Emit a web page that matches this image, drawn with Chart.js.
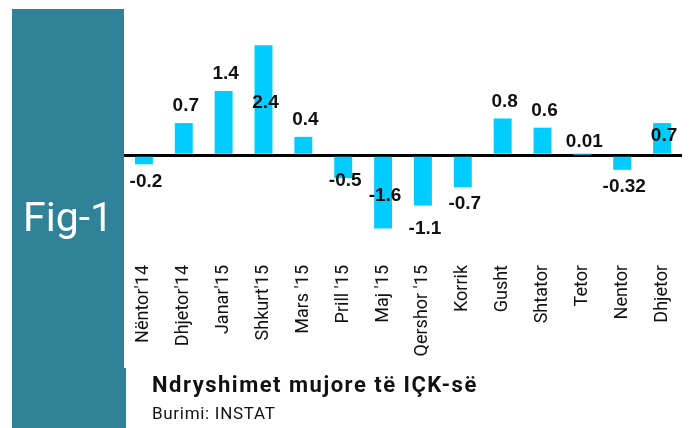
<!DOCTYPE html>
<html>
<head>
<meta charset="utf-8">
<script src="https://cdn.jsdelivr.net/npm/chart.js@4/dist/chart.umd.min.js"></script>
<style>
    body { margin: 0; background: #fff; }
    #wrap { position: relative; width: 689px; height: 428px; overflow: hidden; }
    .teal { position: absolute; background: #2F8297; }
    #grafico { position: absolute; left: 0; top: 0; }
    .txt { position: absolute; font-family: Roboto, sans-serif; line-height: 1; white-space: nowrap; }
</style>
</head>
<body>
<div id="wrap">
    <div class="teal" style="left:12px; top:9px; width:112px; height:419px;"></div>
    <div class="teal" style="left:12px; top:368px; width:114px; height:60px;"></div>
    <canvas id="grafico" width="689" height="428"></canvas>
    <div class="txt" style="left:23px; top:197px; font-size:41px; color:#fff;">Fig-1</div>
    <div class="txt" style="left:152px; top:374px; font-size:22px; font-weight:bold; letter-spacing:1.5px; color:#111;">Ndryshimet mujore të IÇK-së</div>
    <div class="txt" style="left:152px; top:405px; font-size:17px; letter-spacing:0.7px; color:#111;">Burimi: INSTAT</div>
</div>
<script>
var muajt = ["Nëntor'14", "Dhjetor'14", "Janar'15", "Shkurt'15", "Mars '15", "Prill '15", "Maj '15",
    "Qershor '15", "Korrik", "Gusht", "Shtator", "Tetor", "Nentor", "Dhjetor"];
var ndryshimet = [-0.2, 0.7, 1.4, 2.4, 0.4, -0.5, -1.6, -1.1, -0.7, 0.8, 0.6, 0.01, -0.32, 0.7];
var etiketat = ['-0.2', '0.7', '1.4', '2.4', '0.4', '-0.5', '-1.6', '-1.1', '-0.7', '0.8', '0.6', '0.01', '-0.32', '0.7'];

// vlerat mbi/nen shtyllat
const etiketaPlugin = {
    id: 'etiketa',
    afterDatasetsDraw(chart) {
        var ctx = chart.ctx;
        var zhvendos = [0, 0, 0, 75, 0, -14, -50, 6, 0, 0, 0, 4, 0, 30];
        var meta = chart.getDatasetMeta(0);
        ctx.save();
        ctx.font = 'bold 19px "Liberation Sans", Arial, sans-serif';
        ctx.fillStyle = '#111';
        ctx.textAlign = 'center';
        ctx.textBaseline = 'middle';
        meta.data.forEach(function (bar, i) {
            var v = ndryshimet[i];
            var y = v >= 0 ? bar.y - 17 : bar.y + 17;
            ctx.fillText(etiketat[i], bar.x + 2, y + zhvendos[i]);
        });
        ctx.restore();
    }
};

const config = {
    type: 'bar',
    data: {
        labels: muajt,
        datasets: [{
            data: ndryshimet,
            backgroundColor: '#00CCFF',
            barPercentage: 0.45,
            categoryPercentage: 1
        }]
    },
    options: {
        responsive: false,
        animation: false,
        layout: { padding: { left: 124, right: 7, top: 36, bottom: 62 } },
        plugins: { legend: { display: false }, tooltip: { enabled: false } },
        scales: {
            x: {
                grid: { display: false },
                border: { display: false },
                afterFit: function (s) { s.height = 110; },
                ticks: {
                    minRotation: 90,
                    maxRotation: 90,
                    autoSkip: false,
                    padding: 1,
                    color: '#111',
                    font: { family: 'Roboto', size: 18 }
                }
            },
            y: {
                min: -2.2,
                max: 2.6,
                afterFit: function (s) { s.width = 0; },
                afterBuildTicks: function (s) { s.ticks = [{ value: 0 }]; },
                border: { display: false },
                ticks: { display: false },
                grid: { color: '#000', lineWidth: 3, drawTicks: false }
            }
        }
    },
    plugins: [etiketaPlugin]
};

const grafico = new Chart(document.getElementById('grafico'), config);
</script>
</body>
</html>
